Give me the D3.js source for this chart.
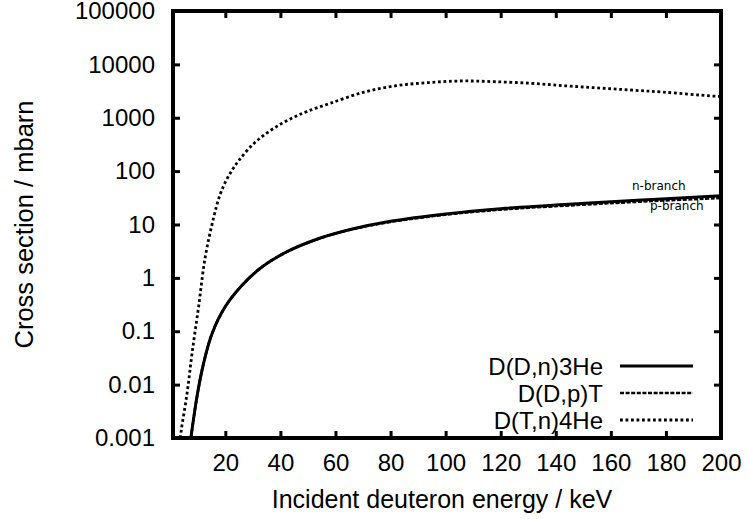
<!DOCTYPE html>
<html>
<head>
<meta charset="utf-8">
<script src="https://cdn.jsdelivr.net/npm/d3@7"></script>
<style>
  body { margin: 0; background: #fff; }
  text { font-family: "Liberation Sans", Arial, sans-serif; fill: #000; }
</style>
</head>
<body>
<svg width="748" height="519"></svg>
<script>
// incident deuteron energy (keV) and cross section (mbarn)
var ddnEnergy = [7.5, 9.7, 12.1, 15.2, 20, 26, 33.3, 43, 55, 65, 80, 100, 120, 149, 175, 200]
var ddnSigma  = [0.001, 0.0059, 0.025, 0.091, 0.29, 0.72, 1.6, 3.2, 5.7, 8.0, 11.5, 15.8, 19.8, 24.8, 29.5, 34.5]

var ddpEnergy = [7.5, 9.7, 12.1, 15.2, 20, 26, 33.3, 43, 55, 65, 80, 100, 120, 149, 175, 200]
var ddpSigma  = [0.001, 0.0059, 0.025, 0.091, 0.29, 0.72, 1.6, 3.2, 5.65, 7.9, 11.2, 15.3, 19, 23.4, 27.5, 31.5]

var dtEnergy = [3.7, 4.0, 6.1, 7.9, 10.3, 12.7, 15.8, 18, 20, 22.5, 25, 30, 35, 40, 45, 50, 58, 70, 82, 94, 106, 118, 131, 143, 155, 167, 179, 196, 200]
var dtSigma  = [0.001, 0.0014, 0.0068, 0.038, 0.29, 2.45, 13.8, 35, 62, 105, 160, 316, 513, 755, 1030, 1334, 1860, 2980, 3980, 4570, 4890, 4730, 4420, 3980, 3630, 3310, 3020, 2570, 2500]

var seriesNames = ["D(D,n)3He", "D(D,p)T", "D(T,n)4He"]
var xTicks = [20, 40, 60, 80, 100, 120, 140, 160, 180, 200]
var yTicks = [0.001, 0.01, 0.1, 1, 10, 100, 1000, 10000, 100000]
var yTickLabels = ["0.001", "0.01", "0.1", "1", "10", "100", "1000", "10000", "100000"]

var svg = d3.select("svg")

var plotLeft = 173, plotRight = 721, plotTop = 11, plotBottom = 438

var x = d3.scaleLinear().domain([1, 200]).range([plotLeft, plotRight])
var y = d3.scaleLog().domain([0.001, 100000]).range([plotBottom, plotTop])

svg.append("rect").attr("width", 748).attr("height", 519).attr("fill", "#fff")

// axes: ticks point inward, mirrored on top and right
svg.append("g")
    .attr("transform", "translate(0," + plotBottom + ")")
    .call(d3.axisBottom(x).tickValues(xTicks).tickSize(-7).tickPadding(16).tickFormat(d3.format("d")))
svg.append("g")
    .attr("transform", "translate(0," + plotTop + ")")
    .call(d3.axisTop(x).tickValues(xTicks).tickSize(-7).tickFormat(""))
svg.append("g")
    .attr("transform", "translate(" + plotLeft + ",0)")
    .call(d3.axisLeft(y).tickValues(yTicks).tickSize(-7).tickPadding(18)
        .tickFormat(function (d, i) { return yTickLabels[i]; }))
svg.append("g")
    .attr("transform", "translate(" + plotRight + ",0)")
    .call(d3.axisRight(y).tickValues(yTicks).tickSize(-7).tickFormat(""))

svg.selectAll(".domain").remove()
svg.selectAll(".tick line").attr("stroke", "#000").attr("stroke-width", 3)
svg.selectAll(".tick text")
    .style("font-family", "Liberation Sans, Arial, sans-serif")
    .style("font-size", "24px")
    .attr("fill", "#000")

// axis titles
svg.append("text")
    .attr("x", 442).attr("y", 508)
    .attr("text-anchor", "middle")
    .style("font-size", "25px")
    .text("Incident deuteron energy / keV")

svg.append("text")
    .attr("transform", "translate(33," + ((plotTop + plotBottom) / 2) + ") rotate(-90)")
    .attr("text-anchor", "middle")
    .style("font-size", "25.5px")
    .text("Cross section / mbarn")

// curves
svg.append("clipPath").attr("id", "plot")
    .append("rect").attr("x", plotLeft).attr("y", plotTop)
    .attr("width", plotRight - plotLeft).attr("height", plotBottom - plotTop)

var line = d3.line()
    .x(d => x(d[0]))
    .y(d => y(d[1]))
    .curve(d3.curveCatmullRom.alpha(0.5))

var styles = [
    { dash: null, width: 3 },
    { dash: "4,1.6", width: 2.6 },
    { dash: "2.8,2.7", width: 2.8 }
]

var curves = [
    d3.zip(ddpEnergy, ddpSigma),
    d3.zip(ddnEnergy, ddnSigma),
    d3.zip(dtEnergy, dtSigma)
]
var curveStyle = [styles[1], styles[0], styles[2]]

var g = svg.append("g").attr("clip-path", "url(#plot)")
g.selectAll("path")
    .data(curves)
    .join("path")
    .attr("d", line)
    .attr("fill", "none")
    .attr("stroke", "#000")
    .attr("stroke-width", (d, i) => curveStyle[i].width)
    .attr("stroke-dasharray", (d, i) => curveStyle[i].dash)

// branch labels
svg.append("text").attr("x", 632).attr("y", 190)
    .style("font-family", "DejaVu Sans, sans-serif").style("font-size", "12px")
    .text("n-branch")
svg.append("text").attr("x", 650).attr("y", 210)
    .style("font-family", "DejaVu Sans, sans-serif").style("font-size", "12px")
    .text("p-branch")

// frame
svg.append("rect")
    .attr("x", plotLeft).attr("y", plotTop)
    .attr("width", plotRight - plotLeft).attr("height", plotBottom - plotTop)
    .attr("fill", "none").attr("stroke", "#000").attr("stroke-width", 4)

// legend
var legend = svg.append("g").selectAll("g")
    .data(seriesNames)
    .join("g")
    .attr("transform", (d, i) => "translate(0," + (366 + i * 27) + ")")

legend.append("text")
    .attr("x", 603).attr("y", 8.5)
    .attr("text-anchor", "end")
    .style("font-size", "24px")
    .text(d => d)

legend.append("line")
    .attr("x1", 620).attr("x2", 693)
    .attr("stroke", "#000")
    .attr("stroke-width", (d, i) => styles[i].width)
    .attr("stroke-dasharray", (d, i) => styles[i].dash)
</script>
</body>
</html>
